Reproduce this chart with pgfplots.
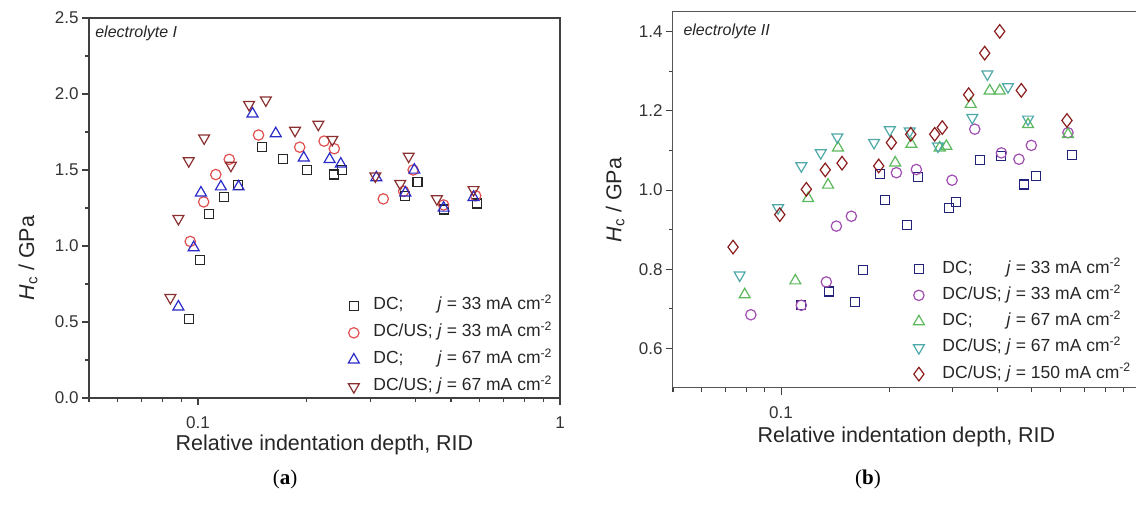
\documentclass[border=0pt]{standalone}
\usepackage{pgfplots}
\pgfplotsset{compat=1.18}
\usepackage{fontspec}
\setmainfont{Liberation Sans}
\newfontfamily\capfont{Liberation Serif}
\definecolor{axgray}{HTML}{404040}
\definecolor{axgrayb}{HTML}{555555}
\definecolor{cblack}{HTML}{262626}
\definecolor{cred}{HTML}{E05050}
\definecolor{cblue}{HTML}{2A2AC8}
\definecolor{cbrown}{HTML}{8A3030}
\definecolor{cnavy}{HTML}{22227A}
\definecolor{cpurple}{HTML}{A04EB0}
\definecolor{cgreen}{HTML}{5CB85C}
\definecolor{cteal}{HTML}{4FA8A8}
\definecolor{cdred}{HTML}{8A1E1E}
\begin{document}
\begin{tikzpicture}
\useasboundingbox (0pt,0pt) rectangle (1136pt,505pt);
% ---------------- (a) ----------------
\begin{axis}[
  scale only axis, xmode=log, tick align=outside, tick pos=left,
  major tick length=7pt, minor tick length=4pt,
  /pgf/number format/assume math mode=true,
  tick label style={font=\fontsize{17}{20}\selectfont, text=black!80},
  xticklabel style={yshift=-8pt},
  label style={font=\fontsize{21.5}{25}\selectfont, text=black!85},
  tick style={line width=1.1pt, color=axgray},
  axis line style={line width=1.2pt, draw=axgray},
  legend cell align=left,
  legend style={draw=none, fill=none, anchor=north west, row sep=9pt,
    font=\fontsize{17.5}{20}\selectfont,
    nodes={inner sep=1pt, text height=12pt, text depth=4pt, text=black!85},
    at={(axis description cs:0.533,0.272)}},
  legend image code/.code={\path (0pt,0pt) (28pt,0pt); \draw[only marks,mark repeat=1,#1] plot coordinates {(10pt,0pt)};},
  every axis plot/.append style={only marks, line width=1.2pt, mark options={line join=miter, solid}},
  at={(89pt,107pt)}, anchor=south west, width=471pt, height=380pt,
  xmin=0.05, xmax=1, ymin=0, ymax=2.5,
  xtick={0.1,1}, xticklabels={0.1,1},
  minor xtick={0.05,0.06,0.07,0.08,0.09,0.2,0.3,0.4,0.5,0.6,0.7,0.8,0.9},
  ytick={0,0.5,1,1.5,2,2.5}, yticklabels={0.0,0.5,1.0,1.5,2.0,2.5},
  minor ytick={0.25,0.75,1.25,1.75,2.25},
  xlabel={Relative indentation depth, RID},
  ylabel={\textit{H}\textsubscript{c} / GPa},
  xlabel style={at={(axis description cs:0.5,-0.124)}, anchor=center},
  ylabel style={at={(axis description cs:-0.1295,0.368)}, anchor=center},
]
\addplot[mark=square, mark size=4.5pt, draw=cblack] coordinates {
(0.0943,0.52)(0.1015,0.91)(0.1074,1.21)(0.118,1.32)(0.129,1.40)(0.150,1.65)(0.172,1.57)(0.2005,1.50)(0.238,1.47)(0.250,1.50)(0.374,1.33)(0.404,1.42)(0.477,1.24)(0.589,1.28)};
\addlegendentry{DC;\phantom{/US} \textit{j} = 33 mA cm\textsuperscript{-2}}
\addplot[mark=o, mark size=5.2pt, draw=cred] coordinates {
(0.0952,1.03)(0.1037,1.29)(0.112,1.47)(0.122,1.57)(0.147,1.73)(0.191,1.65)(0.223,1.69)(0.238,1.64)(0.325,1.31)(0.37,1.36)(0.393,1.50)(0.477,1.27)(0.585,1.33)};
\addlegendentry{DC/US; \textit{j} = 33 mA cm\textsuperscript{-2}}
\addplot[mark=triangle, mark size=6.3pt, draw=cblue] coordinates {
(0.0883,0.60)(0.0973,0.99)(0.1019,1.35)(0.1157,1.39)(0.1295,1.39)(0.1415,1.87)(0.164,1.74)(0.196,1.58)(0.231,1.57)(0.248,1.54)(0.311,1.45)(0.374,1.35)(0.396,1.50)(0.477,1.25)(0.577,1.32)};
\addlegendentry{DC;\phantom{/US} \textit{j} = 67 mA cm\textsuperscript{-2}}
\addplot[mark=triangle, mark size=6.3pt, mark options={rotate=180}, draw=cbrown] coordinates {
(0.0839,0.66)(0.0883,1.18)(0.0943,1.56)(0.104,1.71)(0.1233,1.53)(0.1384,1.93)(0.154,1.96)(0.1854,1.76)(0.215,1.80)(0.235,1.70)(0.309,1.46)(0.362,1.41)(0.382,1.59)(0.457,1.31)(0.577,1.37)};
\addlegendentry{DC/US; \textit{j} = 67 mA cm\textsuperscript{-2}}
\node[anchor=west, font=\fontsize{16}{19}\selectfont\itshape, text=black!85] at (rel axis cs:0.006,0.9605) {electrolyte I};
\end{axis}
% ---------------- (b) ----------------
\begin{axis}[
  scale only axis, xmode=log, tick align=outside, tick pos=left,
  major tick length=7pt, minor tick length=4pt,
  /pgf/number format/assume math mode=true,
  tick label style={font=\fontsize{17}{20}\selectfont, text=black!80},
  xticklabel style={yshift=-8pt},
  label style={font=\fontsize{21.5}{25}\selectfont, text=black!85},
  tick style={line width=1.1pt, color=axgray},
  axis line style={line width=1.0pt, draw=axgrayb},
  legend cell align=left,
  legend style={draw=none, fill=none, anchor=north west, row sep=8.25pt,
    font=\fontsize{17.5}{20}\selectfont,
    nodes={inner sep=1pt, text height=12pt, text depth=4pt, text=black!85},
    at={(axis description cs:0.497,0.346)}},
  legend image code/.code={\path (0pt,0pt) (32pt,0pt); \draw[only marks,mark repeat=1,#1] plot coordinates {(10pt,0pt)};},
  every axis plot/.append style={only marks, line width=1.2pt, mark options={line join=miter, solid}},
  at={(673pt,117pt)}, anchor=south west, width=467pt, height=376pt,
  xmin=0.05, xmax=1, ymin=0.5, ymax=1.45,
  xtick={0.1,1}, xticklabels={0.1,{}},
  minor xtick={0.05,0.06,0.07,0.08,0.09,0.2,0.3,0.4,0.5,0.6,0.7,0.8,0.9},
  ytick={0.6,0.8,1.0,1.2,1.4}, yticklabels={0.6,0.8,1.0,1.2,1.4},
  minor ytick={0.7,0.9,1.1,1.3},
  xlabel={Relative indentation depth, RID},
  ylabel={\textit{H}\textsubscript{c} / GPa},
  xlabel style={at={(axis description cs:0.5,-0.130)}, anchor=center},
  ylabel style={at={(axis description cs:-0.124,0.5)}, anchor=center},
]
\addplot[mark=square, mark size=4.5pt, draw=cnavy] coordinates {
(0.1139,0.709)(0.1358,0.744)(0.1604,0.717)(0.1696,0.799)(0.1884,1.040)(0.1945,0.974)(0.2248,0.911)(0.2407,1.033)(0.2938,0.955)(0.3078,0.970)(0.3577,1.076)(0.411,1.086)(0.4752,1.014)(0.514,1.035)(0.6463,1.088)};
\addlegendentry{DC;\phantom{/US} \textit{j} = 33 mA cm\textsuperscript{-2}}
\addplot[mark=o, mark size=5.2pt, draw=cpurple] coordinates {
(0.0824,0.685)(0.1139,0.709)(0.1337,0.768)(0.1426,0.909)(0.157,0.934)(0.2096,1.044)(0.2382,1.052)(0.2995,1.025)(0.3465,1.154)(0.411,1.094)(0.460,1.078)(0.498,1.113)(0.630,1.145)};
\addlegendentry{DC/US; \textit{j} = 33 mA cm\textsuperscript{-2}}
\addplot[mark=triangle, mark size=6.3pt, draw=cgreen] coordinates {
(0.0792,0.736)(0.1096,0.771)(0.119,0.979)(0.1352,1.013)(0.1441,1.107)(0.208,1.069)(0.2307,1.116)(0.2767,1.107)(0.2888,1.111)(0.3376,1.217)(0.3814,1.251)(0.4066,1.251)(0.4876,1.166)(0.630,1.141)};
\addlegendentry{DC;\phantom{/US} \textit{j} = 67 mA cm\textsuperscript{-2}}
\addplot[mark=triangle, mark size=6.3pt, mark options={rotate=180}, draw=cteal] coordinates {
(0.0767,0.785)(0.0981,0.955)(0.1139,1.061)(0.129,1.094)(0.1435,1.134)(0.1816,1.12)(0.2009,1.152)(0.2283,1.149)(0.2737,1.111)(0.341,1.183)(0.3757,1.293)(0.4288,1.261)(0.4876,1.179)};
\addlegendentry{DC/US; \textit{j} = 67 mA cm\textsuperscript{-2}}
\addplot[mark=diamond, mark size=6.8pt, draw=cdred] coordinates {
(0.0735,0.856)(0.0992,0.938)(0.1176,1.002)(0.1328,1.051)(0.1479,1.068)(0.1871,1.061)(0.2029,1.120)(0.2298,1.141)(0.268,1.141)(0.2813,1.158)(0.3332,1.241)(0.3693,1.346)(0.4066,1.401)(0.467,1.252)(0.626,1.176)};
\addlegendentry{DC/US; \textit{j} = 150 mA cm\textsuperscript{-2}}
\node[anchor=west, font=\fontsize{16}{19}\selectfont\itshape, text=black!85] at (rel axis cs:0.015,0.949) {electrolyte II};
\end{axis}
\node[font=\fontsize{21}{25}\selectfont\capfont] at (285pt,26pt) {(\textbf{a})};
\node[font=\fontsize{21}{25}\selectfont\capfont] at (868pt,26pt) {(\textbf{b})};
\end{tikzpicture}
\end{document}
